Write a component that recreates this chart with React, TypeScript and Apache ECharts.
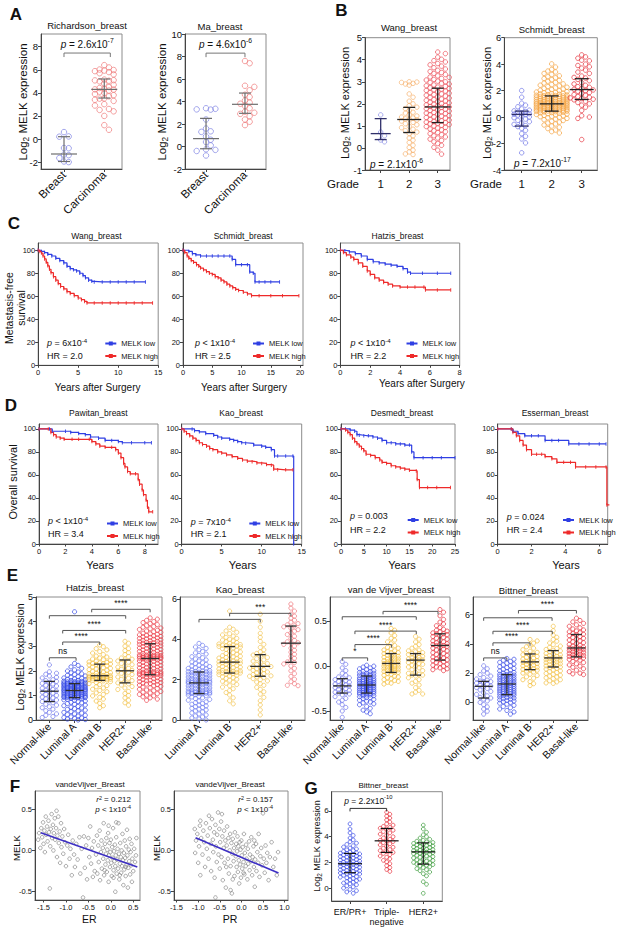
import React, { useEffect, useRef } from "react";
import * as echarts from "echarts";

const FONT = '"Liberation Sans", Arial, Helvetica, sans-serif';
const INK = "#111";
const AXC = "#444";
const FRAME = "#8c8c8c";
const KM_BLUE = "#2f3fe3";
const KM_RED = "#ee2a2a";

// ================= Panel A =================
const catsA = ["Breast", "Carcinoma"];
const richBreast = [0.6, 0.22, 0.2, -0.8, -0.78, -1.35, -1.4, -1.65, -1.95, -2.0];
const richCarc = [6.4, 6.2, 6.02, 5.98, 5.93, 5.88, 5.8, 5.7, 5.6, 5.15, 5.1, 5.08, 5.05, 5.0, 4.8, 4.7, 4.5, 4.42, 4.35, 4.3, 4.28, 4.2, 4.1, 4.0, 3.9, 3.8, 3.7, 3.52, 3.5, 3.4, 3.3, 3.02, 2.9, 2.6, 2.52, 2.4, 2.0, 1.2, 0.8];
const richMed = [-1.3, 4.3];
const richQ1 = [-1.95, 3.55];
const richQ3 = [0.2, 5.2];
const maBreast = [3.4, 3.35, 3.3, 3.28, 2.4, 1.6, 1.35, 1.3, 0.9, 0.6, 0.4, 0.1, -0.25, -0.3, -0.4, -0.8];
const maCarc = [7.6, 7.4, 5.4, 5.3, 5.0, 4.6, 4.4, 4.1, 3.9, 3.8, 3.6, 3.4, 3.1, 3.0, 2.9, 2.7, 2.4, 2.2, 1.9];
const maMed = [0.7, 3.75];
const maQ1 = [-0.2, 2.95];
const maQ3 = [2.5, 4.75];
const yTicksA1 = [-2, 0, 2, 4, 6, 8];
const yTicksA2 = [-2, 0, 2, 4, 6, 8, 10];

// ================= Panel B =================
const gradeCats = ["1", "2", "3"];
const wangG1 = [1.5, 0.72, 0.55, 0.36, 0.28];
const wangG2 = [3.0, 2.99, 2.97, 2.93, 2.9, 2.85, 2.45, 2.3, 2.12, 2.0, 1.92, 1.85, 1.78, 1.7, 1.62, 1.58, 1.5, 1.45, 1.4, 1.36, 1.32, 1.3, 1.27, 1.22, 1.16, 1.1, 1.05, 0.98, 0.92, 0.85, 0.78, 0.72, 0.65, 0.55, 0.45, 0.35, 0.25, 0.12, 0.02, -0.1, -0.18, -0.27, -0.3];
const wangG3 = [4.35, 4.28, 4.12, 4.02, 3.96, 3.9, 3.83, 3.77, 3.71, 3.64, 3.58, 3.52, 3.47, 3.42, 3.38, 3.33, 3.27, 3.22, 3.2, 3.15, 3.11, 3.08, 3.03, 3.0, 2.97, 2.93, 2.9, 2.86, 2.82, 2.79, 2.76, 2.73, 2.7, 2.67, 2.64, 2.61, 2.58, 2.55, 2.51, 2.48, 2.45, 2.42, 2.39, 2.35, 2.32, 2.29, 2.26, 2.22, 2.19, 2.16, 2.13, 2.1, 2.07, 2.04, 2.01, 1.98, 1.95, 1.93, 1.91, 1.88, 1.86, 1.84, 1.81, 1.78, 1.76, 1.73, 1.7, 1.67, 1.64, 1.61, 1.58, 1.56, 1.53, 1.5, 1.47, 1.44, 1.41, 1.38, 1.35, 1.32, 1.29, 1.26, 1.23, 1.2, 1.17, 1.15, 1.12, 1.09, 1.06, 1.03, 1.0, 0.97, 0.93, 0.9, 0.86, 0.82, 0.78, 0.74, 0.7, 0.65, 0.6, 0.55, 0.5, 0.45, 0.4, 0.34, 0.28, 0.2, 0.12, 0.03, -0.1, -0.28];
const wangMed = [0.65, 1.29, 1.86];
const wangQ1 = [0.38, 0.7, 1.15];
const wangQ3 = [1.33, 1.84, 2.71];
const schG1 = [2.0, 1.5, 1.05, 0.9, 0.78, 0.62, 0.52, 0.47, 0.42, 0.36, 0.3, 0.26, 0.22, 0.2, 0.15, 0.08, 0.02, -0.05, -0.15, -0.25, -0.35, -0.45, -0.55, -0.65, -0.72, -0.85, -1.0, -1.25, -1.45, -1.65, -1.95, -2.7];
const schG2 = [4.02, 3.78, 3.6, 3.48, 3.41, 3.3, 3.22, 3.12, 3.05, 2.97, 2.91, 2.83, 2.77, 2.71, 2.62, 2.57, 2.51, 2.46, 2.41, 2.36, 2.3, 2.26, 2.21, 2.17, 2.12, 2.08, 2.03, 1.99, 1.96, 1.92, 1.89, 1.86, 1.83, 1.8, 1.77, 1.75, 1.72, 1.7, 1.67, 1.65, 1.63, 1.61, 1.6, 1.58, 1.56, 1.55, 1.53, 1.51, 1.49, 1.47, 1.46, 1.44, 1.42, 1.4, 1.39, 1.37, 1.35, 1.34, 1.32, 1.3, 1.29, 1.27, 1.26, 1.24, 1.22, 1.21, 1.19, 1.18, 1.16, 1.15, 1.13, 1.12, 1.1, 1.09, 1.08, 1.06, 1.05, 1.04, 1.03, 1.02, 1.01, 1.0, 0.99, 0.97, 0.96, 0.94, 0.93, 0.91, 0.9, 0.88, 0.87, 0.85, 0.84, 0.82, 0.81, 0.79, 0.78, 0.76, 0.75, 0.73, 0.72, 0.7, 0.69, 0.67, 0.66, 0.64, 0.63, 0.61, 0.6, 0.58, 0.57, 0.55, 0.54, 0.52, 0.51, 0.49, 0.48, 0.47, 0.46, 0.45, 0.43, 0.41, 0.39, 0.37, 0.34, 0.32, 0.29, 0.26, 0.23, 0.2, 0.17, 0.13, 0.1, 0.06, 0.03, -0.01, -0.05, -0.1, -0.15, -0.2, -0.26, -0.32, -0.38, -0.45, -0.52, -0.6, -0.68, -0.77, -0.87, -0.98, -1.1, -1.2];
const schG3 = [4.7, 4.55, 4.45, 4.3, 4.25, 4.0, 3.9, 3.8, 3.7, 3.55, 3.4, 3.3, 3.1, 3.0, 2.95, 2.85, 2.75, 2.6, 2.5, 2.4, 2.3, 2.25, 2.15, 2.1, 2.05, 2.0, 1.95, 1.85, 1.8, 1.7, 1.65, 1.55, 1.5, 1.45, 1.4, 1.35, 1.3, 1.2, 1.1, 1.0, 0.9, 0.75, 0.5, 0.1, 0.0, -0.1, -1.7];
const schMed = [0.2, 1.0, 2.08];
const schQ1 = [-0.68, 0.45, 1.33];
const schQ3 = [0.45, 1.6, 2.9];

// ================= Panel C / D (Kaplan-Meier) =================
const cWangLow = [[0, 100], [0.4, 99], [0.8, 98], [1.2, 96.5], [1.7, 95], [2.2, 93], [2.7, 91], [3.2, 89], [3.6, 86], [4, 84], [4.4, 83], [4.8, 82], [5.2, 80], [5.6, 78], [5.9, 76], [6.3, 74], [6.7, 73], [7, 72.5], [8, 72.5], [9, 72.5], [10, 72.5], [11, 72.5], [12, 72.5], [13.4, 72.5]];
const cWangHigh = [[0, 100], [0.2, 99], [0.4, 97.5], [0.6, 95], [0.8, 92.5], [1, 89.5], [1.2, 86.5], [1.4, 83.5], [1.6, 80.5], [1.9, 77], [2.2, 74], [2.5, 71], [2.8, 68.5], [3.2, 66.5], [3.6, 64], [4, 62.5], [4.5, 60.5], [5, 58.5], [5.4, 57], [5.8, 55.5], [6.1, 54.2], [7, 54.2], [8, 54.2], [9, 54.2], [10, 54.2], [11, 54.2], [12, 54.2], [13, 54.2], [14.3, 54.2]];
const cSchLow = [[0, 100], [1, 99], [1.6, 97], [2.2, 96], [3, 95], [4, 95], [5, 95], [6, 95], [7, 95], [8, 95], [8.4, 92], [9, 87.5], [10, 87.5], [11, 87.5], [11.4, 81], [12, 80], [12.3, 72.5], [13, 72.5], [14, 72.5], [15, 72.5], [16.5, 72.5]];
const cSchHigh = [[0, 100], [0.3, 98], [0.7, 95], [1, 93], [1.4, 91], [1.8, 89.5], [2.3, 87.5], [2.7, 86], [3, 84.5], [3.5, 83], [4, 81.5], [4.5, 80], [5, 79], [5.5, 77], [6, 76], [6.5, 74], [7, 72.5], [7.5, 70.5], [8, 69], [8.5, 67.5], [9, 66], [9.5, 65], [10.3, 63.5], [11, 62], [11.7, 60.5], [13, 60.5], [15, 60.5], [17, 60.5], [19.8, 60.5]];
const cHatLow = [[0, 100], [0.3, 99.5], [0.6, 98.5], [1, 97], [1.4, 95], [1.8, 92], [2.2, 90], [2.6, 89], [3, 88], [3.4, 87], [3.8, 86], [4.2, 84], [4.5, 81], [4.7, 80], [5.5, 80], [6.5, 80], [7.4, 80]];
const cHatHigh = [[0, 100], [0.2, 98], [0.4, 96], [0.7, 94], [0.9, 92], [1.2, 89], [1.5, 86], [1.8, 82], [2, 79], [2.3, 76], [2.6, 74], [2.9, 72], [3.2, 70.5], [3.5, 69], [4, 68], [4.5, 68], [5, 68], [5.6, 68], [5.7, 65.5], [6.5, 65.5], [7.4, 65.5]];
const dPawLow = [[0, 100], [0.8, 100], [1, 98], [2, 98], [2.4, 97], [3, 96], [3.5, 95], [3.9, 93], [4.5, 92], [5, 90], [5.5, 90], [6, 89], [6.3, 88], [7, 88], [8, 88], [8.5, 88]];
const dPawHigh = [[0, 100], [0.7, 100], [0.9, 97], [1.1, 95], [1.3, 93], [1.6, 92], [1.9, 91], [2.5, 91], [3, 91], [3.8, 91], [4, 89], [4.3, 87], [4.6, 85], [5, 84], [5.5, 84], [5.8, 82], [6, 79], [6.2, 75], [6.4, 70], [6.5, 67], [6.7, 63], [6.9, 61], [7.3, 61], [7.5, 56], [7.6, 52], [7.8, 47], [7.9, 43], [8.1, 38], [8.2, 32], [8.3, 28], [8.6, 28]];
const dKaoLow = [[0, 100], [1.3, 100], [1.6, 98.5], [2.2, 97.5], [3, 96], [4, 94.5], [4.5, 93], [5, 92], [6, 91], [6.5, 90], [7, 89], [7.5, 88], [8, 87.5], [9, 86], [10, 85], [10.5, 84], [11.2, 82], [11.6, 76.5], [12, 76.5], [13, 76.5], [13.9, 76.5], [14, 0]];
const dKaoHigh = [[0, 100], [0.3, 98], [0.6, 96], [1, 94], [1.4, 92], [1.8, 90], [2.2, 88], [2.6, 86.5], [3.1, 85], [3.5, 83], [3.9, 82], [4.5, 80], [5, 79], [5.6, 77.5], [6.3, 76], [7, 74.5], [7.6, 73], [8.2, 72], [8.8, 71.5], [9.4, 70.5], [10, 70], [10.6, 69], [11.2, 68.5], [11.5, 65], [12, 64.5], [13, 64.5], [13.9, 64.5]];
const dDesLow = [[0, 100], [1, 100], [2, 99], [3, 98], [3.5, 95], [4, 94.5], [5, 94], [6, 94], [7, 93], [8, 92], [9, 90], [10, 88], [11, 88], [12, 87], [13, 87], [14, 86], [15, 86], [15.5, 80], [16, 75], [18, 75], [20, 75], [22, 75], [25, 75]];
const dDesHigh = [[0, 100], [1, 99], [1.5, 97], [2, 95], [2.5, 92], [3, 89], [3.5, 87], [4, 85], [4.5, 83], [5, 81], [5.5, 78], [6.5, 77], [7.5, 75], [8.5, 73], [9, 71], [10, 70], [11, 68], [12, 67], [13, 66], [14, 65], [15, 64], [16.5, 63.5], [16.7, 56], [17.2, 49], [19, 49], [21, 49], [24, 49]];
const dEssLow = [[0, 100], [0.8, 100], [0.9, 98], [1.2, 96], [1.6, 94], [2, 94], [2.4, 94], [2.8, 90], [3.2, 90], [3.6, 90], [4.2, 87], [4.8, 87], [5.4, 87], [6, 87], [6.4, 87]];
const dEssHigh = [[0, 100], [0.8, 100], [0.9, 97], [1.1, 94], [1.3, 90], [1.5, 86], [1.7, 82], [2, 78], [2.3, 78], [2.6, 78], [2.8, 76], [3.2, 74], [3.5, 71], [3.9, 71], [4.3, 71], [4.6, 67], [5.2, 67], [5.8, 67], [6.4, 67], [6.45, 34], [6.6, 34]];
const kmYTicks = [0, 20, 40, 60, 80, 100];

// ================= Panel E =================
const catsE5 = ["Normal-like", "Luminal A", "Luminal B", "HER2+", "Basal-like"];
const catsE4 = ["Luminal A", "Luminal B", "HER2+", "Basal-like"];
const hzNormal = [2.24, 1.96, 1.9, 1.86, 1.79, 1.74, 1.71, 1.64, 1.6, 1.57, 1.53, 1.49, 1.46, 1.41, 1.38, 1.33, 1.29, 1.24, 1.2, 1.18, 1.16, 1.13, 1.09, 1.04, 1.0, 0.97, 0.93, 0.9, 0.86, 0.81, 0.78, 0.75, 0.7, 0.64, 0.6, 0.54, 0.5, 0.44, 0.38, 0.31, 0.25, 0.19, 0.14, 0.1];
const hzLumA = [4.4, 2.3, 2.22, 2.16, 2.1, 2.04, 1.99, 1.95, 1.92, 1.88, 1.85, 1.82, 1.79, 1.76, 1.74, 1.71, 1.69, 1.67, 1.65, 1.63, 1.61, 1.6, 1.58, 1.57, 1.56, 1.55, 1.54, 1.53, 1.52, 1.51, 1.5, 1.5, 1.49, 1.49, 1.48, 1.47, 1.46, 1.46, 1.45, 1.44, 1.43, 1.42, 1.41, 1.41, 1.4, 1.39, 1.38, 1.37, 1.36, 1.35, 1.35, 1.34, 1.33, 1.32, 1.31, 1.3, 1.29, 1.28, 1.28, 1.27, 1.26, 1.25, 1.24, 1.24, 1.23, 1.22, 1.22, 1.21, 1.21, 1.2, 1.19, 1.18, 1.17, 1.17, 1.16, 1.15, 1.14, 1.13, 1.12, 1.11, 1.1, 1.09, 1.08, 1.07, 1.06, 1.05, 1.04, 1.03, 1.02, 1.01, 1.0, 0.99, 0.98, 0.97, 0.96, 0.96, 0.95, 0.94, 0.94, 0.93, 0.93, 0.92, 0.92, 0.91, 0.91, 0.9, 0.88, 0.86, 0.84, 0.82, 0.8, 0.77, 0.75, 0.72, 0.7, 0.67, 0.64, 0.61, 0.58, 0.55, 0.52, 0.49, 0.46, 0.43, 0.4, 0.37, 0.34, 0.31, 0.28, 0.25, 0.22, 0.19, 0.16, 0.13, 0.1, 0.08, 0.06, 0.04, 0.02, 0.0];
const hzLumB = [3.05, 2.98, 2.9, 2.85, 2.78, 2.72, 2.66, 2.6, 2.56, 2.52, 2.48, 2.45, 2.42, 2.39, 2.36, 2.34, 2.32, 2.3, 2.29, 2.28, 2.26, 2.24, 2.21, 2.19, 2.16, 2.13, 2.1, 2.07, 2.05, 2.02, 2.0, 1.97, 1.95, 1.92, 1.9, 1.88, 1.86, 1.84, 1.82, 1.81, 1.8, 1.79, 1.78, 1.77, 1.76, 1.75, 1.74, 1.73, 1.72, 1.71, 1.7, 1.69, 1.68, 1.67, 1.66, 1.65, 1.64, 1.63, 1.62, 1.61, 1.59, 1.56, 1.52, 1.48, 1.44, 1.4, 1.35, 1.3, 1.25, 1.2, 1.15, 1.1, 1.04, 0.98, 0.92, 0.85, 0.77, 0.68, 0.58, 0.5];
const hzHer2 = [3.2, 3.12, 3.0, 2.9, 2.82, 2.74, 2.66, 2.58, 2.52, 2.47, 2.44, 2.4, 2.35, 2.3, 2.25, 2.2, 2.15, 2.1, 2.06, 2.02, 2.0, 1.98, 1.94, 1.9, 1.85, 1.8, 1.75, 1.7, 1.65, 1.6, 1.55, 1.51, 1.47, 1.42, 1.36, 1.3, 1.24, 1.16, 1.08, 1.0, 0.9, 0.8, 0.7, 0.6];
const hzBasal = [4.15, 4.1, 4.05, 4.0, 3.96, 3.92, 3.88, 3.84, 3.8, 3.77, 3.74, 3.71, 3.68, 3.65, 3.62, 3.59, 3.56, 3.53, 3.5, 3.48, 3.46, 3.44, 3.42, 3.4, 3.38, 3.36, 3.34, 3.32, 3.3, 3.28, 3.26, 3.24, 3.22, 3.2, 3.18, 3.16, 3.14, 3.13, 3.12, 3.11, 3.09, 3.07, 3.05, 3.03, 3.01, 2.99, 2.97, 2.95, 2.93, 2.91, 2.89, 2.87, 2.85, 2.83, 2.81, 2.79, 2.77, 2.75, 2.73, 2.71, 2.69, 2.67, 2.65, 2.64, 2.63, 2.62, 2.61, 2.6, 2.59, 2.58, 2.57, 2.56, 2.55, 2.54, 2.53, 2.52, 2.51, 2.51, 2.5, 2.5, 2.48, 2.46, 2.44, 2.42, 2.4, 2.38, 2.36, 2.34, 2.32, 2.3, 2.28, 2.26, 2.24, 2.22, 2.2, 2.18, 2.16, 2.14, 2.12, 2.1, 2.08, 2.06, 2.04, 2.02, 2.0, 1.98, 1.96, 1.95, 1.94, 1.93, 1.92, 1.91, 1.9, 1.89, 1.88, 1.87, 1.86, 1.85, 1.85, 1.84, 1.82, 1.8, 1.78, 1.76, 1.74, 1.72, 1.7, 1.68, 1.66, 1.64, 1.62, 1.6, 1.58, 1.56, 1.54, 1.52, 1.5, 1.48, 1.46, 1.44, 1.42, 1.4, 1.37, 1.34, 1.31, 1.28, 1.25, 1.22, 1.19, 1.16, 1.13, 1.1, 1.07, 1.04, 1.01, 0.98, 0.94, 0.9, 0.85, 0.8];
const hzMed = [1.17, 1.2, 1.8, 2.0, 2.5];
const hzQ1 = [0.75, 0.91, 1.61, 1.51, 1.84];
const hzQ3 = [1.57, 1.48, 2.27, 2.44, 3.1];
const hzBr = [[0, 1.06, 2.53], [0.53, 2.0, 3.17], [0.53, 3.03, 3.64], [0, 3.03, 4.24], [1.68, 4.0, 4.5]];
const hzBrText = ["ns", "****", "****", "", "****"];

const kaoLumA = [3.8, 3.7, 3.62, 3.55, 3.48, 3.4, 3.33, 3.27, 3.2, 3.14, 3.09, 3.03, 2.98, 2.93, 2.88, 2.84, 2.8, 2.76, 2.72, 2.68, 2.65, 2.62, 2.59, 2.56, 2.53, 2.5, 2.47, 2.45, 2.43, 2.41, 2.4, 2.39, 2.37, 2.35, 2.33, 2.31, 2.29, 2.27, 2.25, 2.23, 2.21, 2.19, 2.17, 2.15, 2.13, 2.11, 2.09, 2.07, 2.05, 2.03, 2.01, 1.99, 1.98, 1.96, 1.95, 1.93, 1.92, 1.9, 1.89, 1.88, 1.87, 1.86, 1.85, 1.85, 1.84, 1.83, 1.81, 1.79, 1.77, 1.75, 1.73, 1.71, 1.69, 1.67, 1.65, 1.63, 1.61, 1.59, 1.57, 1.55, 1.53, 1.51, 1.49, 1.47, 1.45, 1.43, 1.42, 1.4, 1.39, 1.38, 1.37, 1.36, 1.35, 1.34, 1.33, 1.32, 1.32, 1.31, 1.29, 1.26, 1.23, 1.2, 1.17, 1.14, 1.1, 1.06, 1.02, 0.98, 0.94, 0.9, 0.86, 0.82, 0.78, 0.74, 0.7, 0.66, 0.62, 0.58, 0.54, 0.5, 0.45, 0.4, 0.35, 0.3, 0.25, 0.2, 0.15, 0.1, 0.05, 0.0];
const kaoLumB = [5.4, 4.6, 4.5, 4.42, 4.35, 4.28, 4.22, 4.16, 4.1, 4.05, 4.0, 3.96, 3.92, 3.88, 3.84, 3.8, 3.77, 3.74, 3.72, 3.7, 3.68, 3.67, 3.66, 3.65, 3.62, 3.58, 3.54, 3.5, 3.46, 3.42, 3.38, 3.34, 3.3, 3.26, 3.22, 3.19, 3.16, 3.13, 3.1, 3.07, 3.04, 3.01, 2.98, 2.95, 2.93, 2.91, 2.89, 2.88, 2.86, 2.84, 2.82, 2.8, 2.77, 2.74, 2.71, 2.68, 2.65, 2.62, 2.59, 2.56, 2.53, 2.5, 2.48, 2.46, 2.44, 2.42, 2.4, 2.38, 2.36, 2.35, 2.34, 2.33, 2.31, 2.28, 2.25, 2.22, 2.18, 2.14, 2.1, 2.06, 2.02, 1.97, 1.92, 1.87, 1.82, 1.76, 1.7, 1.63, 1.55, 1.46, 1.36, 1.24, 1.1, 0.95, 0.8];
const kaoHer2 = [5.25, 4.9, 4.6, 4.3, 4.1, 3.9, 3.75, 3.6, 3.48, 3.38, 3.3, 3.26, 3.22, 3.16, 3.1, 3.04, 2.98, 2.92, 2.86, 2.8, 2.75, 2.7, 2.67, 2.65, 2.62, 2.58, 2.54, 2.5, 2.46, 2.42, 2.38, 2.34, 2.3, 2.26, 2.22, 2.19, 2.17, 2.14, 2.1, 2.05, 2.0, 1.94, 1.88, 1.8, 1.72, 1.62, 1.52, 1.4, 1.28, 1.12, 0.95, 0.75, 0.5, 0.25];
const kaoBasal = [5.75, 5.55, 5.4, 5.25, 5.15, 5.05, 4.95, 4.85, 4.78, 4.72, 4.67, 4.62, 4.55, 4.48, 4.4, 4.32, 4.24, 4.15, 4.05, 3.95, 3.88, 3.83, 3.8, 3.75, 3.66, 3.56, 3.46, 3.36, 3.26, 3.16, 3.06, 2.96, 2.88, 2.85, 2.78, 2.68, 2.56, 2.44, 2.3, 2.16, 2.02, 1.9, 1.8, 1.72, 1.7];
const kaoMed = [1.84, 2.87, 2.66, 3.81];
const kaoQ1 = [1.31, 2.33, 2.17, 2.86];
const kaoQ3 = [2.38, 3.64, 3.24, 4.66];
const kaoBr = [[1.0, 3.0, 5.29], [0, 2.0, 4.99]];
const kaoBrText = ["***", ""];

const vdvNormal = [0.05, 0.02, -0.02, -0.05, -0.08, -0.1, -0.12, -0.13, -0.14, -0.15, -0.16, -0.17, -0.18, -0.19, -0.2, -0.21, -0.22, -0.22, -0.23, -0.24, -0.25, -0.26, -0.27, -0.28, -0.29, -0.3, -0.3, -0.31, -0.32, -0.34, -0.36, -0.38, -0.4, -0.43, -0.46, -0.5, -0.57];
const vdvLumA = [0.01, 0.0, -0.01, -0.02, -0.03, -0.04, -0.05, -0.06, -0.06, -0.07, -0.08, -0.08, -0.09, -0.09, -0.1, -0.1, -0.11, -0.11, -0.12, -0.12, -0.13, -0.13, -0.14, -0.14, -0.15, -0.15, -0.15, -0.16, -0.16, -0.17, -0.17, -0.17, -0.18, -0.18, -0.19, -0.19, -0.19, -0.2, -0.2, -0.2, -0.21, -0.21, -0.21, -0.21, -0.22, -0.22, -0.22, -0.23, -0.23, -0.23, -0.24, -0.24, -0.24, -0.25, -0.25, -0.25, -0.26, -0.26, -0.26, -0.27, -0.27, -0.27, -0.28, -0.28, -0.28, -0.29, -0.29, -0.29, -0.3, -0.3, -0.3, -0.31, -0.31, -0.32, -0.32, -0.33, -0.33, -0.34, -0.35, -0.35, -0.36, -0.37, -0.38, -0.39, -0.4, -0.41, -0.42, -0.43, -0.45, -0.47, -0.49, -0.51, -0.53];
const vdvLumB = [0.42, 0.4, 0.37, 0.34, 0.31, 0.29, 0.27, 0.25, 0.23, 0.21, 0.2, 0.19, 0.18, 0.17, 0.16, 0.15, 0.15, 0.14, 0.13, 0.12, 0.12, 0.11, 0.1, 0.1, 0.09, 0.08, 0.08, 0.07, 0.06, 0.06, 0.05, 0.05, 0.04, 0.04, 0.03, 0.03, 0.02, 0.02, 0.01, 0.01, 0.0, 0.0, -0.01, -0.01, -0.02, -0.02, -0.03, -0.03, -0.04, -0.04, -0.05, -0.05, -0.06, -0.06, -0.07, -0.07, -0.08, -0.09, -0.1, -0.11, -0.12, -0.13, -0.14, -0.15, -0.16, -0.17, -0.18, -0.19, -0.2];
const vdvHer2 = [0.33, 0.3, 0.27, 0.24, 0.22, 0.2, 0.18, 0.17, 0.16, 0.15, 0.14, 0.14, 0.13, 0.12, 0.11, 0.1, 0.09, 0.08, 0.08, 0.07, 0.07, 0.06, 0.05, 0.04, 0.03, 0.02, 0.01, 0.0, -0.01, -0.02, -0.04, -0.05, -0.07, -0.08, -0.09, -0.1, -0.1, -0.11, -0.13, -0.15, -0.17, -0.19, -0.21, -0.24, -0.27, -0.29, -0.31, -0.31];
const vdvBasal = [0.63, 0.6, 0.56, 0.52, 0.49, 0.47, 0.45, 0.43, 0.41, 0.4, 0.39, 0.38, 0.37, 0.36, 0.36, 0.35, 0.34, 0.33, 0.32, 0.31, 0.3, 0.29, 0.28, 0.27, 0.26, 0.25, 0.24, 0.24, 0.23, 0.23, 0.22, 0.21, 0.2, 0.19, 0.18, 0.17, 0.16, 0.15, 0.14, 0.13, 0.12, 0.11, 0.1, 0.09, 0.08, 0.07, 0.07, 0.06, 0.05, 0.04, 0.03, 0.02, 0.01, 0.0, -0.01, -0.02, -0.03, -0.04, -0.05];
const vdvMed = [-0.22, -0.21, 0.03, 0.067, 0.23];
const vdvQ1 = [-0.3, -0.3, -0.07, -0.1, 0.067];
const vdvQ3 = [-0.14, -0.11, 0.14, 0.14, 0.36];
const vdvBr = [[0, 1.04, 0.092], [0.52, 2.02, 0.24], [0.52, 3.03, 0.39], [0, 3.03, 0.55], [1.67, 3.92, 0.61]];
const vdvBrText = ["*", "****", "****", "", "****"];

const bitNormal = [2.5, 2.3, 2.15, 2.0, 1.9, 1.8, 1.7, 1.6, 1.52, 1.46, 1.42, 1.38, 1.32, 1.25, 1.18, 1.12, 1.08, 1.02, 0.95, 0.85, 0.75, 0.65, 0.55, 0.45, 0.35, 0.3, 0.22, 0.1, 0.0, -0.15, -0.3, -0.45, -0.6, -0.8];
const bitLumA = [3.0, 2.95, 2.88, 2.8, 2.74, 2.68, 2.62, 2.56, 2.5, 2.44, 2.38, 2.32, 2.26, 2.2, 2.15, 2.1, 2.05, 2.0, 1.96, 1.92, 1.9, 1.87, 1.84, 1.8, 1.77, 1.74, 1.7, 1.67, 1.64, 1.6, 1.57, 1.54, 1.5, 1.47, 1.44, 1.4, 1.37, 1.34, 1.31, 1.28, 1.26, 1.24, 1.21, 1.18, 1.15, 1.12, 1.09, 1.06, 1.03, 1.0, 0.97, 0.94, 0.91, 0.88, 0.85, 0.82, 0.79, 0.76, 0.73, 0.7, 0.67, 0.64, 0.61, 0.58, 0.55, 0.53, 0.5, 0.46, 0.42, 0.38, 0.34, 0.3, 0.26, 0.22, 0.18, 0.14, 0.1, 0.05, 0.0, -0.05, -0.12, -0.2, -0.28, -0.36, -0.45, -0.55, -0.65, -0.8];
const bitLumB = [4.3, 4.2, 4.05, 3.92, 3.8, 3.7, 3.6, 3.5, 3.42, 3.36, 3.31, 3.26, 3.2, 3.14, 3.08, 3.02, 2.96, 2.9, 2.85, 2.8, 2.77, 2.74, 2.7, 2.65, 2.6, 2.55, 2.5, 2.45, 2.4, 2.35, 2.3, 2.26, 2.24, 2.2, 2.14, 2.08, 2.0, 1.92, 1.84, 1.75, 1.65, 1.55, 1.42, 1.28, 1.15];
const bitHer2 = [5.2, 4.9, 4.6, 4.45, 4.3, 4.18, 4.06, 3.95, 3.85, 3.76, 3.68, 3.62, 3.56, 3.52, 3.46, 3.4, 3.35, 3.3, 3.25, 3.2, 3.15, 3.1, 3.06, 3.04, 3.0, 2.96, 2.92, 2.88, 2.84, 2.8, 2.76, 2.72, 2.68, 2.64, 2.6, 2.55, 2.5, 2.46, 2.42, 2.38, 2.33, 2.28, 2.22, 2.16, 2.1, 2.04, 1.98, 1.92, 1.86, 1.8, 1.74, 1.68, 1.62, 1.55, 1.48, 1.4, 1.33, 1.3];
const bitBasal = [5.75, 5.6, 5.5, 5.4, 5.3, 5.2, 5.1, 5.02, 4.95, 4.88, 4.82, 4.76, 4.7, 4.66, 4.62, 4.56, 4.5, 4.44, 4.38, 4.32, 4.26, 4.2, 4.14, 4.08, 4.02, 3.96, 3.9, 3.84, 3.78, 3.74, 3.72, 3.7, 3.66, 3.62, 3.58, 3.54, 3.5, 3.46, 3.42, 3.38, 3.34, 3.3, 3.26, 3.22, 3.18, 3.14, 3.11, 3.08, 3.04, 3.0, 2.94, 2.88, 2.8, 2.72, 2.64, 2.56, 2.48, 2.4, 2.3, 2.2, 2.1, 2.0, 1.95, 1.9];
const bitMed = [1.1, 1.26, 2.77, 3.04, 3.72];
const bitQ1 = [0.3, 0.53, 2.24, 2.42, 3.11];
const bitQ3 = [1.44, 1.9, 3.31, 3.54, 4.64];
const bitBr = [[0, 1.0, 3.04], [0.4, 2.0, 4.07], [0.4, 2.96, 4.86], [0, 2.95, 5.78], [1.5, 4.0, 6.28]];
const bitBrText = ["ns", "****", "****", "", "****"];

// ================= Panel F =================
const fER = [[-1.62, 0.13], [-1.6, 0.21], [-1.57, 0.03], [-1.55, 0.27], [-1.53, 0.16], [-1.51, 0.34], [-1.5, 0.08], [-1.48, 0.24], [-1.47, -0.02], [-1.45, 0.41], [-1.44, 0.19], [-1.42, 0.29], [-1.41, 0.11], [-1.39, 0.36], [-1.38, 0.22], [-1.36, -0.46], [-1.35, 0.05], [-1.34, 0.26], [-1.32, 0.44], [-1.31, 0.15], [-1.29, 0.31], [-1.28, 0.0], [-1.27, 0.21], [-1.25, 0.39], [-1.24, 0.13], [-1.22, 0.27], [-1.21, 0.48], [-1.2, -0.08], [-1.19, 0.18], [-1.17, 0.41], [-1.16, 0.09], [-1.14, 0.23], [-1.13, -0.15], [-1.11, 0.33], [-1.1, 0.04], [-1.08, 0.17], [-1.06, -0.04], [-1.04, 0.26], [-1.02, 0.1], [-1.0, -0.19], [-0.97, 0.06], [-0.95, 0.19], [-0.92, -0.1], [-0.9, 0.02], [-0.87, -0.3], [-0.85, 0.12], [-0.82, -0.05], [-0.8, -0.2], [-0.77, 0.08], [-0.74, -0.11], [-0.7, 0.16], [-0.68, -0.28], [-0.65, 0.02], [-0.62, -0.57], [-0.6, 0.17], [-0.58, -0.21], [-0.55, 0.06], [-0.53, -0.35], [-0.5, 0.15], [-0.48, -0.08], [-0.46, 0.29], [-0.44, -0.16], [-0.42, 0.03], [-0.4, -0.32], [-0.38, 0.11], [-0.36, -0.25], [-0.33, -0.05], [-0.31, 0.18], [-0.3, -0.28], [-0.28, 0.06], [-0.27, -0.14], [-0.25, 0.24], [-0.24, -0.36], [-0.22, -0.02], [-0.21, 0.12], [-0.2, -0.22], [-0.18, 0.03], [-0.17, -0.1], [-0.16, 0.33], [-0.15, -0.3], [-0.13, 0.08], [-0.12, -0.17], [-0.11, -0.04], [-0.1, 0.15], [-0.09, -0.26], [-0.08, 0.01], [-0.07, -0.12], [-0.06, 0.21], [-0.05, -0.38], [-0.04, -0.06], [-0.03, 0.09], [-0.02, -0.2], [-0.01, -0.02], [0.0, 0.13], [0.01, -0.15], [0.02, -0.31], [0.03, 0.04], [0.04, -0.09], [0.05, 0.27], [0.06, -0.24], [0.07, -0.01], [0.08, -0.13], [0.09, 0.07], [0.1, -0.5], [0.1, -0.19], [0.11, -0.06], [0.12, 0.16], [0.13, -0.28], [0.14, -0.11], [0.15, 0.02], [0.16, -0.22], [0.17, 0.33], [0.18, -0.04], [0.19, -0.35], [0.2, -0.16], [0.21, 0.09], [0.22, -0.08], [0.23, -0.27], [0.24, 0.0], [0.25, -0.19], [0.26, 0.2], [0.27, -0.12], [0.28, -0.42], [0.29, -0.03], [0.3, -0.23], [0.31, 0.12], [0.32, -0.09], [0.33, -0.31], [0.34, 0.05], [0.35, -0.17], [0.36, 0.25], [0.37, -0.06], [0.38, -0.45], [0.39, -0.21], [0.4, 0.01], [0.41, -0.13], [0.42, 0.14], [0.43, -0.29], [0.44, -0.02], [0.45, -0.18], [0.46, 0.08], [0.47, -0.38], [0.48, -0.1], [0.5, -0.25], [0.52, 0.02], [0.54, -0.14], [0.56, -0.06], [0.57, 0.15], [0.12, 0.34], [-0.05, 0.3], [0.06, -0.33], [-0.14, -0.24], [0.2, -0.3], [0.33, -0.2]];
const fPR = [[-1.08, 0.26], [-1.07, -0.03], [-1.05, 0.12], [-1.02, 0.2], [-1.0, -0.15], [-0.98, 0.05], [-0.96, 0.3], [-0.95, -0.3], [-0.93, 0.15], [-0.9, -0.05], [-0.88, 0.24], [-0.86, 0.1], [-0.84, -0.2], [-0.82, 0.33], [-0.8, 0.02], [-0.78, 0.18], [-0.76, -0.1], [-0.75, 0.42], [-0.73, 0.27], [-0.71, 0.08], [-0.7, -0.25], [-0.68, 0.38], [-0.66, 0.13], [-0.65, -0.02], [-0.63, 0.22], [-0.62, -0.33], [-0.6, 0.31], [-0.59, 0.05], [-0.57, -0.14], [-0.56, 0.19], [-0.54, 0.46], [-0.53, -0.05], [-0.51, 0.26], [-0.5, -0.22], [-0.49, 0.1], [-0.47, 0.35], [-0.46, -0.08], [-0.44, 0.17], [-0.43, -0.36], [-0.41, 0.03], [-0.4, 0.24], [-0.39, -0.15], [-0.37, 0.12], [-0.36, -0.45], [-0.34, 0.06], [-0.33, 0.29], [-0.31, -0.1], [-0.3, 0.15], [-0.29, -0.28], [-0.27, 0.0], [-0.26, 0.2], [-0.25, -0.19], [-0.23, 0.09], [-0.22, -0.52], [-0.21, -0.04], [-0.2, 0.14], [-0.18, -0.13], [-0.17, 0.03], [-0.16, -0.31], [-0.15, 0.22], [-0.13, -0.07], [-0.12, 0.08], [-0.11, -0.2], [-0.1, -0.01], [-0.09, 0.17], [-0.08, -0.26], [-0.07, 0.05], [-0.06, -0.12], [-0.05, -0.4], [-0.04, 0.1], [-0.03, -0.17], [-0.02, 0.01], [-0.01, -0.33], [0.0, 0.12], [0.01, -0.06], [0.02, -0.22], [0.03, 0.04], [0.05, -0.14], [0.06, 0.2], [0.07, -0.29], [0.08, -0.03], [0.1, -0.19], [0.11, 0.07], [0.12, -0.1], [0.14, -0.35], [0.15, 0.02], [0.16, -0.16], [0.18, 0.11], [0.19, -0.24], [0.2, -0.05], [0.22, -0.13], [0.23, 0.16], [0.25, -0.3], [0.26, -0.08], [0.28, 0.05], [0.29, -0.2], [0.31, -0.44], [0.32, -0.11], [0.34, 0.08], [0.35, -0.25], [0.37, -0.02], [0.39, -0.15], [0.4, 0.2], [0.42, -0.32], [0.44, -0.07], [0.46, 0.03], [0.48, -0.18], [0.5, 0.45], [0.52, -0.1], [0.54, -0.27], [0.56, 0.06], [0.58, -0.15], [0.6, -0.03], [0.63, -0.36], [0.66, -0.08], [0.7, 0.1], [0.74, -0.2], [0.78, -0.1], [0.82, -0.3], [0.85, -0.02], [-0.6, -0.57], [-0.25, -0.48], [-0.45, 0.44], [-0.95, 0.36], [-0.2, -0.35], [0.05, -0.27], [-0.35, -0.2], [0.3, 0.12]];
const fERreg = [[-1.56, 0.214], [0.59, -0.2]];
const fPRreg = [[-1.06, 0.153], [0.86, -0.274]];
const fYTicks = [-0.5, 0, 0.5];
const fERTicks = [-1.5, -1.0, -0.5, 0, 0.5];
const fPRTicks = [-1.5, -1.0, -0.5, 0, 0.5, 1.0];

// ================= Panel G =================
const catsG = ["ER/PR+", "Triple-\nnegative", "HER2+"];
const gERPR = [5.0, 4.6, 4.3, 4.1, 3.9, 3.75, 3.6, 3.5, 3.4, 3.3, 3.2, 3.12, 3.05, 2.98, 2.92, 2.86, 2.8, 2.75, 2.72, 2.7, 2.66, 2.62, 2.58, 2.54, 2.5, 2.46, 2.42, 2.38, 2.34, 2.3, 2.26, 2.22, 2.18, 2.14, 2.1, 2.06, 2.02, 1.98, 1.95, 1.92, 1.9, 1.88, 1.85, 1.82, 1.78, 1.74, 1.7, 1.66, 1.62, 1.58, 1.54, 1.5, 1.46, 1.42, 1.38, 1.34, 1.3, 1.26, 1.22, 1.2, 1.18, 1.14, 1.1, 1.05, 1.0, 0.95, 0.9, 0.85, 0.8, 0.75, 0.7, 0.64, 0.58, 0.52, 0.46, 0.4, 0.33, 0.26, 0.18, 0.1, 0.0, -0.1, -0.2, -0.3, -0.4];
const gTN = [5.9, 5.75, 5.6, 5.45, 5.3, 5.15, 5.0, 4.9, 4.8, 4.72, 4.66, 4.6, 4.5, 4.4, 4.3, 4.2, 4.1, 4.0, 3.9, 3.8, 3.72, 3.68, 3.62, 3.54, 3.45, 3.36, 3.27, 3.18, 3.1, 3.0, 2.92, 2.84, 2.78, 2.7, 2.6, 2.5, 2.4, 2.28, 2.16, 2.04, 1.9, 1.75, 1.6, 1.45, 1.3];
const gHer2 = [4.9, 4.6, 4.35, 4.15, 4.0, 3.9, 3.8, 3.72, 3.65, 3.6, 3.55, 3.52, 3.48, 3.44, 3.4, 3.36, 3.32, 3.28, 3.24, 3.2, 3.16, 3.12, 3.08, 3.04, 3.0, 2.96, 2.92, 2.88, 2.84, 2.82, 2.8, 2.76, 2.72, 2.68, 2.64, 2.6, 2.55, 2.5, 2.45, 2.4, 2.35, 2.3, 2.25, 2.2, 2.15, 2.1, 2.05, 2.0, 1.95, 1.9, 1.87, 1.83, 1.78, 1.72, 1.66, 1.6, 1.52, 1.44, 1.35, 1.25, 1.12, 0.95, 0.5, 0.3, -0.4];
const gMed = [1.9, 3.68, 2.82];
const gQ1 = [1.2, 2.78, 1.87];
const gQ3 = [2.7, 4.64, 3.52];
const gYTicks = [0, 2, 4, 6];

// ---------------- helpers ----------------
function richFor(fs: number, lh: number) {
  return {
    i: { fontStyle: "italic", fontSize: fs, fontFamily: FONT, fill: INK, color: INK, lineHeight: lh },
    s: { fontSize: +(fs * 0.68).toFixed(1), fontFamily: FONT, fill: INK, color: INK, verticalAlign: "top", lineHeight: +(fs * 0.68).toFixed(1) },
    b: { fontSize: +(fs * 0.72).toFixed(1), fontFamily: FONT, fill: INK, color: INK, verticalAlign: "bottom", lineHeight: +(fs * 0.72).toFixed(1) },
  };
}

// deterministic beeswarm layout (pixel offsets)
function swarm(vals: number[], yMin: number, yMax: number, hPx: number, d: number, half: number) {
  const order = vals.map((_, i) => i).sort((a, b) => vals[b] - vals[a]);
  const placed: { x: number; y: number }[] = [];
  const out = new Array(vals.length).fill(0);
  const step = d * 0.85;
  const maxK = Math.max(0, Math.floor(half / step));
  for (const i of order) {
    const y = ((vals[i] - yMin) / (yMax - yMin)) * hPx;
    let best = 0;
    let bestScore = -Infinity;
    for (let k = 0; k <= 2 * maxK; k++) {
      const m = k === 0 ? 0 : k % 2 ? (k + 1) / 2 : -k / 2;
      const x = m * step;
      let minD = Infinity;
      for (const q of placed) {
        const dy = q.y - y;
        if (Math.abs(dy) >= d) continue;
        const dist = Math.hypot(q.x - x, dy);
        if (dist < minD) minD = dist;
      }
      if (minD >= d * 0.92) {
        best = x;
        break;
      }
      if (minD > bestScore) {
        bestScore = minD;
        best = x;
      }
    }
    placed.push({ x: best, y });
    out[i] = best;
  }
  return out;
}

function buildOption() {
  const grid: any[] = [];
  const xAxis: any[] = [];
  const yAxis: any[] = [];
  const series: any[] = [];
  const legend: any[] = [];
  const graphic: any[] = [];

  const txt = (x: number, y: number, text: string, fs: number, o: any = {}) => {
    const lh = o.lh ?? Math.round(fs * 1.25);
    graphic.push({
      type: "text", x, y, rotation: o.rot ?? 0, z: 50, silent: true,
      style: {
        text, fontSize: fs, fontFamily: FONT, fontWeight: o.bold ? "bold" : "normal",
        fill: o.color ?? INK, align: o.align ?? "center", verticalAlign: o.va ?? "middle",
        textAlign: o.align ?? "center", textVerticalAlign: o.va ?? "middle",
        lineHeight: lh, rich: richFor(fs, lh),
      },
    });
  };
  const ROT = Math.PI / 2;

  const addGrid = (b: any) => {
    grid.push({ left: b.l, top: b.t, width: b.w, height: b.h, show: true, borderColor: FRAME, borderWidth: 1, backgroundColor: "transparent" });
    return grid.length - 1;
  };
  const axisLine = { show: true, onZero: false, lineStyle: { color: AXC, width: 1 } };

  const yAxisFor = (gi: number, min: number, max: number, ticks: number[], fs: number, fmt?: any) => {
    yAxis.push({
      type: "value", gridIndex: gi, min, max, splitLine: { show: false }, axisLine,
      axisTick: { show: true, length: 3, customValues: ticks, lineStyle: { color: AXC } },
      axisLabel: { customValues: ticks, fontSize: fs, fontFamily: FONT, color: INK, margin: 3, formatter: fmt },
    });
    return yAxis.length - 1;
  };

  const dotPanel = (c: any) => {
    const gi = addGrid(c.box);
    const idx = c.cats.map((_: any, i: number) => i);
    xAxis.push({
      type: "value", gridIndex: gi, min: c.xMin, max: c.xMax, splitLine: { show: false }, axisLine,
      axisTick: { show: true, length: 3, customValues: idx, lineStyle: { color: AXC } },
      axisLabel: {
        customValues: idx, formatter: (v: number) => c.cats[Math.round(v)] ?? "",
        rotate: c.catRotate, margin: c.catMargin, fontSize: c.catFont, fontFamily: FONT, color: INK,
        lineHeight: c.catLH ?? undefined,
      },
    });
    const xi = xAxis.length - 1;
    const yi = yAxisFor(gi, c.yMin, c.yMax, c.yTicks, c.tickFont, c.yFmt);
    const unit = c.box.w / (c.xMax - c.xMin);
    c.groups.forEach((vals: number[], i: number) => {
      const sp = Array.isArray(c.spread) ? c.spread[i] : c.spread;
      const offs = swarm(vals, c.yMin, c.yMax, c.box.h, c.size, sp);
      series.push({
        type: "scatter", xAxisIndex: xi, yAxisIndex: yi, symbol: "circle", symbolSize: c.size, silent: true, z: 2,
        itemStyle: { color: "rgba(255,255,255,0)", borderColor: c.colors[i], borderWidth: c.bw ?? 0.9 },
        data: vals.map((v, k) => [i + offs[k] / unit, v]),
      });
    });
    const barCol = (i: number) => (Array.isArray(c.bar) ? c.bar[i] : c.bar);
    series.push({
      type: "custom", xAxisIndex: xi, yAxisIndex: yi, z: 5, silent: true, clip: false,
      encode: { x: 0, y: 1 },
      data: idx.map((i: number) => [i, c.med[i], c.q1[i], c.q3[i]]),
      renderItem: (params: any, api: any) => {
        const i = params.dataIndex;
        const x = api.value(0);
        const pm = api.coord([x, api.value(1)]);
        const pa = api.coord([x, api.value(2)]);
        const pb = api.coord([x, api.value(3)]);
        const st = { stroke: barCol(i), lineWidth: c.barW ?? 1.3 };
        const mh = Array.isArray(c.medHalf) ? c.medHalf[i] : c.medHalf;
        const ch = c.capHalf;
        return {
          type: "group",
          children: [
            { type: "line", shape: { x1: pa[0], y1: pa[1], x2: pb[0], y2: pb[1] }, style: st },
            { type: "line", shape: { x1: pa[0] - ch, y1: pa[1], x2: pa[0] + ch, y2: pa[1] }, style: st },
            { type: "line", shape: { x1: pb[0] - ch, y1: pb[1], x2: pb[0] + ch, y2: pb[1] }, style: st },
            { type: "line", shape: { x1: pm[0] - mh, y1: pm[1], x2: pm[0] + mh, y2: pm[1] }, style: st },
          ],
        };
      },
    });
    if (c.brackets) {
      const fs = c.brFont ?? 8.5;
      const lh = Math.round(fs * 1.5);
      series.push({
        type: "custom", xAxisIndex: xi, yAxisIndex: yi, z: 6, silent: true, clip: false,
        encode: { x: 0, y: 2 },
        data: c.brackets,
        renderItem: (params: any, api: any) => {
          const p1 = api.coord([api.value(0), api.value(2)]);
          const p2 = api.coord([api.value(1), api.value(2)]);
          const leg = c.brLeg ?? 3;
          const st = { stroke: c.brColor ?? "#555", lineWidth: 1 };
          const label = c.brText[params.dataIndex];
          const ch: any[] = [
            { type: "polyline", shape: { points: [[p1[0], p1[1] + leg], [p1[0], p1[1]], [p2[0], p2[1]], [p2[0], p2[1] + leg]] }, style: { ...st, fill: null } },
          ];
          if (label) {
            ch.push({
              type: "text", x: (p1[0] + p2[0]) / 2, y: p1[1] - (c.brGap ?? 0.5),
              style: { text: label, fontSize: fs, fontFamily: FONT, fill: INK, align: "center", verticalAlign: "bottom", lineHeight: lh, rich: richFor(fs, lh), fontWeight: c.brBold ? "bold" : "normal" },
            });
          }
          return { type: "group", children: ch };
        },
      });
    }
  };

  const kmPanel = (c: any) => {
    const gi = addGrid(c.box);
    xAxis.push({
      type: "value", gridIndex: gi, min: 0, max: c.xMax, splitLine: { show: false }, axisLine,
      axisTick: { show: true, length: 2.5, customValues: c.xTicks, lineStyle: { color: AXC } },
      axisLabel: { customValues: c.xTicks, fontSize: 7.5, fontFamily: FONT, color: INK, margin: 3 },
    });
    const xi = xAxis.length - 1;
    const yi = yAxisFor(gi, 0, c.yMax, kmYTicks, 7.5);
    const mk = (name: string, data: number[][], col: string) => ({
      type: "line", name, step: "end", xAxisIndex: xi, yAxisIndex: yi, data, silent: true,
      symbol: "rect", symbolSize: [0.9, 3.5], showSymbol: true, z: 3,
      lineStyle: { color: col, width: 1.2 }, itemStyle: { color: col },
    });
    series.push(mk("MELK low", c.low, KM_BLUE));
    series.push(mk("MELK high", c.high, KM_RED));
    legend.push({
      left: c.lg[0], top: c.lg[1], orient: "vertical", itemWidth: 11, itemHeight: 5, itemGap: 4.5, padding: 0,
      selectedMode: false, textStyle: { fontSize: 7.5, fontFamily: FONT, color: INK },
      data: ["MELK low", "MELK high"],
    });
    txt(c.note[0], c.note[1], c.p, 9, { align: "left" });
    txt(c.note[0], c.note[2], c.hr, 9, { align: "left" });
  };

  const corrPanel = (c: any) => {
    const gi = addGrid(c.box);
    xAxis.push({
      type: "value", gridIndex: gi, min: c.xMin, max: c.xMax, splitLine: { show: false }, axisLine,
      axisTick: { show: true, length: 2.5, customValues: c.xTicks, lineStyle: { color: AXC } },
      axisLabel: { customValues: c.xTicks, fontSize: 7.5, fontFamily: FONT, color: INK, margin: 3, formatter: (v: number) => v.toFixed(1) },
    });
    const xi = xAxis.length - 1;
    const yi = yAxisFor(gi, -0.6, 0.72, fYTicks, 7.5, (v: number) => v.toFixed(1));
    series.push({
      type: "scatter", xAxisIndex: xi, yAxisIndex: yi, symbol: "circle", symbolSize: 3.6, silent: true,
      itemStyle: { color: "rgba(255,255,255,0)", borderColor: "#7a7a7a", borderWidth: 0.8 }, data: c.pts,
    });
    series.push({
      type: "line", xAxisIndex: xi, yAxisIndex: yi, data: c.reg, symbol: "none", silent: true, z: 4,
      lineStyle: { color: "#3d2fc4", width: 1.6 },
    });
  };

  // ===== A =====
  txt(15.8, 14.5, "A", 17, { bold: true });
  txt(87, 25, "Richardson_breast", 9.5);
  txt(220, 26, "Ma_breast", 9.5);
  dotPanel({
    box: { l: 41, t: 34, w: 81, h: 135 }, cats: catsA, groups: [richBreast, richCarc], colors: ["#7f83e3", "#ee7b7b"],
    med: richMed, q1: richQ1, q3: richQ3, xMin: -0.571, xMax: 1.44, yMin: -2.6, yMax: 9.1, yTicks: yTicksA1, tickFont: 9.5,
    catRotate: 45, catFont: 11.5, catMargin: 4, size: 5.5, spread: [8, 13], bar: "#6e6e6e", barW: 1.2, medHalf: 13, capHalf: 6,
    brackets: [[0, 1.15, 7.45]], brText: ["{i|p} = 2.6x10{s|-7}"], brFont: 10, brLeg: 4, brGap: 1, brColor: "#777",
  });
  dotPanel({
    box: { l: 185, t: 34, w: 81, h: 135 }, cats: catsA, groups: [maBreast, maCarc], colors: ["#7f83e3", "#ee7b7b"],
    med: maMed, q1: maQ1, q3: maQ3, xMin: -0.54, xMax: 1.54, yMin: -2, yMax: 10, yTicks: yTicksA2, tickFont: 9.5,
    catRotate: 45, catFont: 11.5, catMargin: 4, size: 5.5, spread: [10, 12], bar: "#6e6e6e", barW: 1.2, medHalf: 13, capHalf: 6,
    brackets: [[0, 1, 8.3]], brText: ["{i|p} = 4.6x10{s|-6}"], brFont: 10, brLeg: 4, brGap: 1, brColor: "#777",
  });
  txt(23, 102, "Log{b|2} MELK expression", 11.5, { rot: ROT, lh: 14 });
  txt(162, 102, "Log{b|2} MELK expression", 11.5, { rot: ROT, lh: 14 });

  // ===== B =====
  txt(341.5, 10.5, "B", 17, { bold: true });
  txt(409, 27, "Wang_breast", 9.5);
  txt(551.7, 29.5, "Schmidt_breast", 9.5);
  dotPanel({
    box: { l: 365, t: 37.7, w: 85, h: 132.3 }, cats: gradeCats, groups: [wangG1, wangG2, wangG3], colors: ["#8a8ee6", "#f6b36f", "#ec4c56"],
    med: wangMed, q1: wangQ1, q3: wangQ3, xMin: -0.55, xMax: 2.43, yMin: -1, yMax: 5, yTicks: [-1, 0, 1, 2, 3, 4, 5], tickFont: 9.5,
    catRotate: 0, catFont: 11.5, catMargin: 8, size: 4.5, spread: [6, 10, 12], bar: ["#30306a", "#222", "#222"], barW: 1.3, medHalf: [10, 12, 13], capHalf: 6,
  });
  dotPanel({
    box: { l: 504.3, t: 37.7, w: 93, h: 132.3 }, cats: gradeCats, groups: [schG1, schG2, schG3], colors: ["#6d74e6", "#f4a341", "#e4323c"],
    med: schMed, q1: schQ1, q3: schQ3, xMin: -0.58, xMax: 2.52, yMin: -4, yMax: 6, yTicks: [-4, -2, 0, 2, 4, 6], tickFont: 9.5,
    catRotate: 0, catFont: 11.5, catMargin: 8, size: 4.5, spread: [10, 19, 13], bar: ["#30306a", "#222", "#222"], barW: 1.3, medHalf: [10, 12, 12], capHalf: 7,
  });
  txt(345, 103, "Log{b|2} MELK expression", 11, { rot: ROT, lh: 13 });
  txt(486.7, 103, "Log{b|2} MELK expression", 11, { rot: ROT, lh: 13 });
  txt(343, 183.5, "Grade", 11.5);
  txt(486, 183.5, "Grade", 11.5);
  txt(370, 164, "{i|p} = 2.1x10{s|-6}", 10, { align: "left", lh: 15 });
  txt(514, 163, "{i|p} = 7.2x10{s|-17}", 10, { align: "left", lh: 15 });

  // ===== C =====
  txt(14, 223.5, "C", 17, { bold: true });
  txt(96.4, 236.3, "Wang_breast", 8.5);
  txt(243.2, 236.3, "Schmidt_breast", 8.5);
  txt(397.5, 236.3, "Hatzis_breast", 8.5);
  txt(15, 308, "Metastasis-free\nsurvival", 10.5, { rot: ROT, lh: 12 });
  kmPanel({ box: { l: 38.2, t: 243, w: 120, h: 122.3 }, xMax: 15, xTicks: [0, 5, 10, 15], yMax: 106.3, low: cWangLow, high: cWangHigh, lg: [104.3, 339.5], note: [47, 343, 355.7], p: "{i|p} = 6x10{s|-4}", hr: "HR = 2.0" });
  kmPanel({ box: { l: 183, t: 243, w: 120, h: 122.3 }, xMax: 20.5, xTicks: [0, 5, 10, 15, 20], yMax: 106.3, low: cSchLow, high: cSchHigh, lg: [252, 339.5], note: [195, 343, 355.7], p: "{i|p} < 1x10{s|-4}", hr: "HR = 2.5" });
  kmPanel({ box: { l: 340.4, t: 243, w: 119.3, h: 122.3 }, xMax: 8, xTicks: [0, 2, 4, 6, 8], yMax: 106.3, low: cHatLow, high: cHatHigh, lg: [405.5, 339.5], note: [350.4, 343, 355.7], p: "{i|p} < 1x10{s|-4}", hr: "HR = 2.2" });
  txt(97.6, 387, "Years after Surgery", 10);
  txt(244, 387, "Years after Surgery", 10);
  txt(421.9, 383.7, "Years after Surgery", 10);

  // ===== D =====
  txt(10.8, 405, "D", 17, { bold: true });
  txt(98.4, 413, "Pawitan_breast", 8.5);
  txt(241, 413, "Kao_breast", 8.5);
  txt(402, 413, "Desmedt_breast", 8.5);
  txt(555, 413, "Esserman_breast", 8.5);
  txt(13.3, 482, "Overall survival", 11, { rot: ROT });
  kmPanel({ box: { l: 39, t: 424, w: 119, h: 120 }, xMax: 9, xTicks: [0, 2, 4, 6, 8], yMax: 104.3, low: dPawLow, high: dPawHigh, lg: [106, 519.5], note: [48, 521, 533.7], p: "{i|p} < 1x10{s|-4}", hr: "HR = 3.4" });
  kmPanel({ box: { l: 181.7, t: 424, w: 120, h: 120 }, xMax: 15, xTicks: [0, 5, 10, 15], yMax: 104.3, low: dKaoLow, high: dKaoHigh, lg: [248.3, 519.5], note: [190.7, 521.7, 533.7], p: "{i|p} = 7x10{s|-4}", hr: "HR = 2.1" });
  kmPanel({ box: { l: 341, t: 424, w: 114, h: 120 }, xMax: 25, xTicks: [0, 5, 10, 15, 20, 25], yMax: 104.3, low: dDesLow, high: dDesHigh, lg: [406.7, 516], note: [350, 516, 530], p: "{i|p} = 0.003", hr: "HR = 2.2" });
  kmPanel({ box: { l: 497.7, t: 424, w: 110, h: 120 }, xMax: 6.5, xTicks: [0, 2, 4, 6], yMax: 104.3, low: dEssLow, high: dEssHigh, lg: [562, 516], note: [506.7, 517, 530], p: "{i|p} = 0.024", hr: "HR = 2.4" });
  txt(100, 565, "Years", 11);
  txt(242.7, 565, "Years", 11);
  txt(402, 564.5, "Years", 11);
  txt(566, 564.5, "Years", 11);

  // ===== E =====
  txt(12.5, 575, "E", 17, { bold: true });
  txt(95, 587.5, "Hatzis_breast", 9.5);
  txt(240, 589.5, "Kao_breast", 9.5);
  txt(391, 589, "van de Vijver_breast", 9.5);
  txt(528.3, 590.5, "Bittner_breast", 9.5);
  txt(20, 657, "Log{b|2} MELK expression", 10.5, { rot: ROT, lh: 13 });
  const eCommon = { catRotate: 45, catFont: 10.5, catMargin: 5, size: 4.2, tickFont: 9, bar: "#2d2d2d", barW: 1.3, capHalf: 5.5, brFont: 8.5, brLeg: 3, brGap: 0, brColor: "#555" };
  dotPanel({
    ...eCommon, box: { l: 36, t: 597, w: 126, h: 123 }, cats: catsE5, groups: [hzNormal, hzLumA, hzLumB, hzHer2, hzBasal],
    colors: ["#6b73ea", "#3145e5", "#f2bd3c", "#f2c14a", "#eb3a45"], med: hzMed, q1: hzQ1, q3: hzQ3,
    xMin: -0.53, xMax: 4.47, yMin: 0, yMax: 5, yTicks: [0, 1, 2, 3, 4, 5], spread: [9, 11, 11, 10, 11], medHalf: 9,
    brackets: hzBr, brText: hzBrText,
  });
  dotPanel({
    ...eCommon, box: { l: 180, t: 597, w: 125, h: 123 }, cats: catsE4, groups: [kaoLumA, kaoLumB, kaoHer2, kaoBasal],
    colors: ["#6d7cf0", "#f3c552", "#f3c552", "#f07a80"], med: kaoMed, q1: kaoQ1, q3: kaoQ3,
    xMin: -0.62, xMax: 3.46, yMin: 0, yMax: 6.1, yTicks: [0, 2, 4, 6], spread: [13, 12, 11, 11], medHalf: 10,
    brackets: kaoBr, brText: kaoBrText,
  });
  dotPanel({
    ...eCommon, box: { l: 330, t: 597, w: 120, h: 123 }, cats: catsE5, groups: [vdvNormal, vdvLumA, vdvLumB, vdvHer2, vdvBasal],
    colors: ["#6d73ea", "#3b4de6", "#f2bd3c", "#f2c14a", "#e8303a"], med: vdvMed, q1: vdvQ1, q3: vdvQ3,
    xMin: -0.5, xMax: 4.41, yMin: -0.6, yMax: 0.77, yTicks: [-0.5, 0, 0.5], yFmt: (v: number) => v.toFixed(1),
    spread: [9, 10, 10, 10, 10], medHalf: 9, brackets: vdvBr, brText: vdvBrText,
  });
  dotPanel({
    ...eCommon, box: { l: 473, t: 597, w: 115, h: 123 }, cats: catsE5, groups: [bitNormal, bitLumA, bitLumB, bitHer2, bitBasal],
    colors: ["#6d73ea", "#3b4de6", "#f2bd3c", "#f2c14a", "#e8303a"], med: bitMed, q1: bitQ1, q3: bitQ3,
    xMin: -0.46, xMax: 4.5, yMin: -1.2, yMax: 7.2, yTicks: [0, 2, 4, 6], spread: [8, 10, 9, 10, 10], medHalf: 9,
    brackets: bitBr, brText: bitBrText,
  });

  // ===== F =====
  txt(15, 786.5, "F", 17, { bold: true });
  txt(90, 784, "vandeVijver_Breast", 8);
  txt(230, 784, "vandeVijver_Breast", 8);
  corrPanel({ box: { l: 35, t: 791, w: 105, h: 109 }, xMin: -1.69, xMax: 0.65, xTicks: fERTicks, pts: fER, reg: fERreg });
  corrPanel({ box: { l: 174, t: 791, w: 114, h: 109 }, xMin: -1.56, xMax: 1.08, xTicks: fPRTicks, pts: fPR, reg: fPRreg });
  txt(16, 848, "MELK", 9.5, { rot: ROT });
  txt(156.7, 848, "MELK", 9.5, { rot: ROT });
  txt(89.3, 919, "ER", 10.5);
  txt(230, 919, "PR", 10.5);
  txt(131, 799.5, "{i|r}{s|2} = 0.212", 8, { align: "right", lh: 9 });
  txt(131, 809, "{i|p} < 1x10{s|-4}", 8, { align: "right", lh: 9 });
  txt(273, 799.5, "{i|r}{s|2} = 0.157", 8, { align: "right", lh: 9 });
  txt(273, 809, "{i|p} < 1x10{s|-4}", 8, { align: "right", lh: 9 });

  // ===== G =====
  txt(311, 788.5, "G", 17, { bold: true });
  txt(383.3, 785, "Bittner_breast", 8);
  txt(317, 846, "Log{b|2} MELK expression", 9, { rot: ROT, lh: 11 });
  dotPanel({
    box: { l: 331.7, t: 791.7, w: 110.6, h: 109.3 }, cats: catsG, groups: [gERPR, gTN, gHer2], colors: ["#3b4de6", "#e8303a", "#3a9a3a"],
    med: gMed, q1: gQ1, q3: gQ3, xMin: -0.5, xMax: 2.52, yMin: -1, yMax: 7.5, yTicks: gYTicks, tickFont: 8,
    catRotate: 0, catFont: 9, catMargin: 6, catLH: 10, size: 3.8, spread: [12, 9, 11], bar: "#111", barW: 1.2, medHalf: 12, capHalf: 6,
    brackets: [[0, 1, 6.2]], brText: ["{i|p} = 2.2x10{s|-10}"], brFont: 8.5, brLeg: 3, brGap: 1, brColor: "#333",
  });

  return { animation: false, backgroundColor: "#fff", grid, xAxis, yAxis, series, legend, graphic };
}

export default function App() {
  const ref = useRef<HTMLDivElement>(null);
  useEffect(() => {
    const chart = echarts.init(ref.current as HTMLDivElement, null, { renderer: "svg" });
    chart.setOption(buildOption() as any);
    return () => chart.dispose();
  }, []);
  return <div ref={ref} style={{ position: "absolute", left: 0, top: 0, width: 617, height: 929, background: "#fff" }} />;
}
